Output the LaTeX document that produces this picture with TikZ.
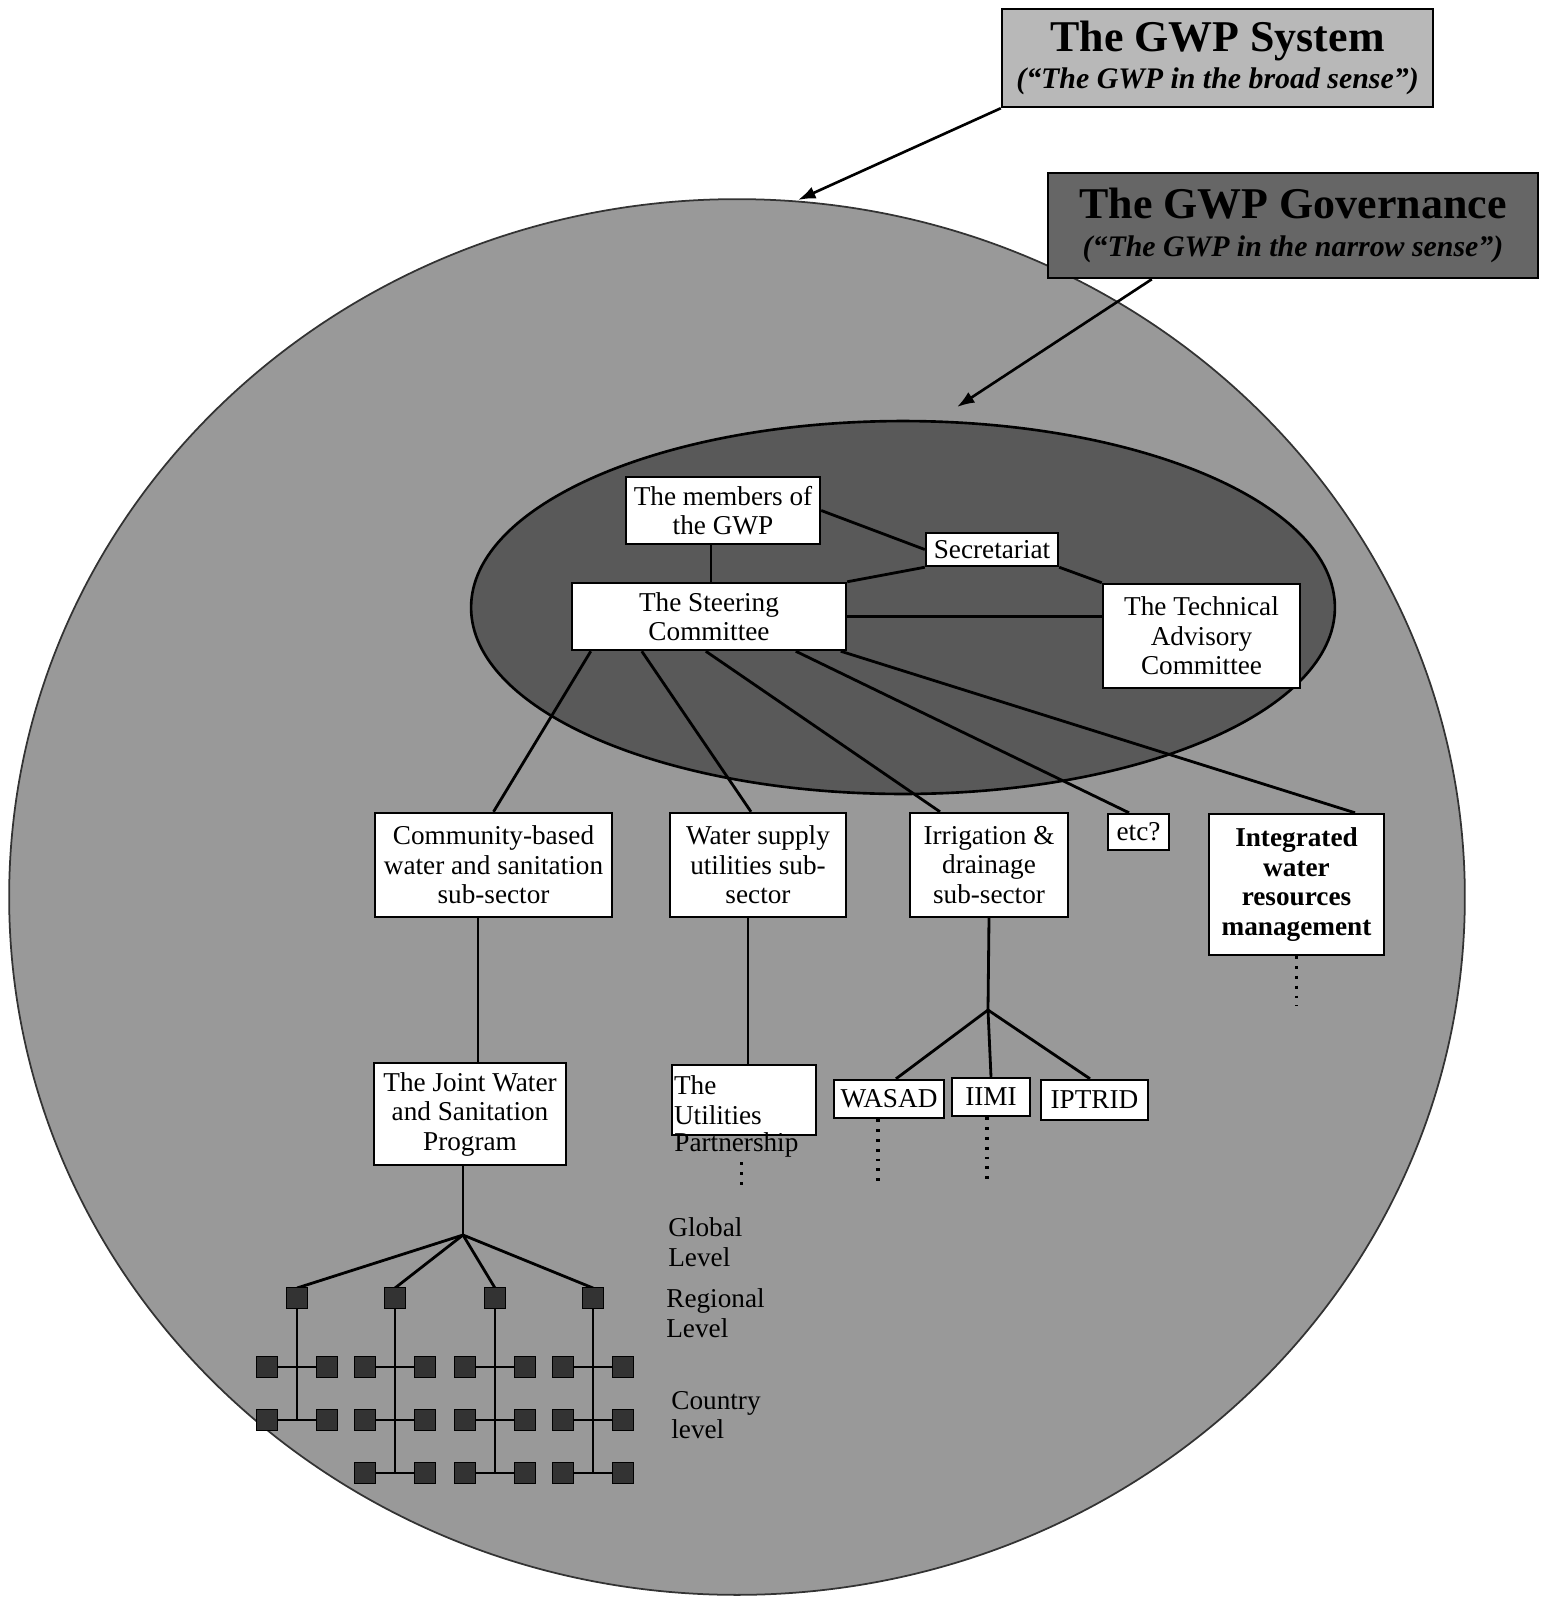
\documentclass[tikz,border=0pt]{standalone}
\usepackage{fontspec}
\setmainfont{Liberation Serif}
\usepackage{tikz}
\usetikzlibrary{arrows.meta,calc}
\newcommand\gwpfont{\fontsize{15.5}{16.8}\selectfont}
\newcommand\gwptitle{\fontsize{25}{28}\selectfont\bfseries\upshape}
\newcommand\gwpsub{\fontsize{17}{21.5}\selectfont\bfseries\itshape}
\tikzset{
  box/.style={draw, fill=white, line width=1.4pt, align=center, inner sep=1pt, font=\gwpfont},
  link/.style={line width=1.6pt},
  dotlink/.style={line width=2pt, dash pattern=on 1.6pt off 4pt},
  regsq/.style={draw, fill=black!80, line width=0.8pt, minimum size=0.42cm, inner sep=0pt},
  pointer/.style={line width=1.5pt, -{Latex[length=0.35cm,width=0.25cm]}},
  levellabel/.style={anchor=west, align=left, inner sep=0pt, font=\gwpfont}
}

\begin{document}
\begin{tikzpicture}[x=0.02cm, y=-0.02cm]
		%%%%% START %%%%%
		\useasboundingbox (0,0) rectangle (1541,1600);
		
		% the system and the governance
		\draw[fill=black!40, draw=black!80, line width=1pt] (737,897) ellipse [x radius=14.56cm, y radius=13.96cm];
		\draw[fill=black!65, line width=1.5pt] (903,607.5) ellipse [x radius=8.64cm, y radius=3.73cm];
		
		\node[draw, line width=1.4pt, fill=black!28, minimum width=8.62cm, minimum height=1.96cm, align=center, inner sep=0pt, font=\gwpsub] (sys) at (1217.5,58) {{\gwptitle The GWP System}\\(“The GWP in the broad sense”)};
		\node[draw, line width=1.4pt, fill=black!60, minimum width=9.8cm, minimum height=2.1cm, align=center, inner sep=0pt, font=\gwpsub] (gov) at (1293,225.5) {{\gwptitle The GWP Governance}\\(“The GWP in the narrow sense”)};
		\coordinate (systip) at (798,200);
		\coordinate (govtip) at (957,407);
		\draw[pointer] (sys.south west) -- (systip);
		\draw[pointer] ([xshift=2.1cm]gov.south west) -- (govtip);
		
		% inside the ellipse
		\node[box, minimum width=3.88cm, minimum height=1.34cm] (members) at (723,510.5) {The members of\\the GWP};
		\node[box, minimum width=2.64cm, minimum height=0.66cm] (secr) at (992,549.5) {Secretariat};
		\node[box, minimum width=5.48cm, minimum height=1.34cm] (steer) at (709,616.5) {The Steering\\Committee};
		\node[box, minimum width=3.94cm, minimum height=2.08cm] (tac) at (1201.5,636) {The Technical\\Advisory\\Committee};
		
		\draw[link] ([xshift=-0.24cm]members.south) -- ([xshift=-0.24cm]members.south |- steer.north);
		\draw[link] (members.east) -- (secr.west);
		\draw[link] (secr.south west) -- (steer.north east);
		\draw[link] (secr.south east) -- (tac.north west);
		\draw[link] (steer.east) -- (steer.east -| tac.west);
		
		% sub-sectors
		\node[box, minimum width=4.74cm, minimum height=2.08cm] (comm) at (493.5,865) {Community-based\\water and sanitation\\sub-sector};
		\node[box, minimum width=3.52cm, minimum height=2.08cm] (wss) at (758,865) {Water supply\\utilities sub-\\sector};
		\node[box, minimum width=3.16cm, minimum height=2.08cm] (irr) at (989,865) {Irrigation \&\\drainage\\sub-sector};
		\node[box, minimum width=1.22cm, minimum height=0.72cm] (etcbox) at (1138.5,832) {etc?};
		\node[box, minimum width=3.5cm, minimum height=2.82cm, font=\gwpfont\bfseries] (iwrm) at (1296.5,884.5) {Integrated\\water\\resources\\management};
		
		\draw[link] ([xshift=0.4cm]steer.south west) -- (comm.north);
		\draw[link] ([xshift=1.42cm]steer.south west) -- ([xshift=-0.14cm]wss.north);
		\draw[link] ([xshift=2.7cm]steer.south west) -- ([xshift=-0.98cm]irr.north);
		\draw[link] ([xshift=4.5cm]steer.south west) -- ([xshift=-0.19cm]etcbox.north);
		\draw[link] ([xshift=5.4cm]steer.south west) -- ([xshift=1.17cm]iwrm.north);
		
		% programmes
		\node[box, minimum width=3.84cm, minimum height=2.04cm] (jwsp) at (470,1114) {The Joint Water\\and Sanitation\\Program};
		\node[box, align=left, text width=2.8cm, minimum height=1.4cm] (utp) at (744,1100) {The\\Utilities};
		\node[font=\gwpfont, anchor=base west, inner sep=0pt] (utpb) at ([xshift=0.06cm, yshift=-0.3cm]utp.south west) {Partnership};
		\node[box, minimum width=2.2cm, minimum height=0.76cm] (wasad) at (889,1099) {WASAD};
		\node[box, minimum width=1.56cm, minimum height=0.76cm] (iimi) at (991,1097) {IIMI};
		\node[box, minimum width=2.14cm, minimum height=0.8cm] (iptrid) at (1094.5,1100) {IPTRID};
		
		\draw[link] ([xshift=-0.31cm]comm.south) -- ([xshift=-0.31cm]comm.south |- jwsp.north);
		\draw[link] ([xshift=-0.2cm]wss.south) -- ([xshift=-0.2cm]wss.south |- utp.north);
		\coordinate (ibr) at (988,1010);
		\draw[link] (irr.south) -- (ibr);
		\draw[link] (ibr) -- ([xshift=0.14cm]wasad.north);
		\draw[link] (ibr) -- (iimi.north);
		\draw[link] (ibr) -- ([xshift=-0.09cm]iptrid.north);
		
		\draw[dotlink] ([xshift=0.1cm, yshift=-0.1cm]utpb.south) -- ++(0,28);
		\draw[dotlink] ([xshift=-0.22cm]wasad.south) -- ++(0,62);
		\draw[dotlink] ([xshift=-0.08cm]iimi.south) -- ++(0,64);
		\draw[dotlink] (iwrm.south) -- ++(0,50);
		
		% global, regional and country level
		\coordinate (jbr) at (463,1235);
		\draw[link] (jbr |- jwsp.south) -- (jbr);
		\foreach \x/\ylast/\rows [count=\i] in {297/1420/{1367,1420}, 395/1473/{1367,1420,1473}, 495/1473/{1367,1420,1473}, 593/1473/{1367,1420,1473}} {
			\draw[link] (jbr) -- (\x,1288);
			\draw[link] (\x,1298) -- (\x,\ylast);
			\node[regsq] (r\i) at (\x,1298) {};
			\foreach \y [count=\j] in \rows {
				\draw[link] (\x-30,\y) -- (\x+30,\y);
				\node[regsq] (c\i-\j-l) at (\x-30,\y) {};
				\node[regsq] (c\i-\j-r) at (\x+30,\y) {};
			}
		}
		
		\node[levellabel] (lvglobal) at (668,1242) {Global\\Level};
		\node[levellabel] (lvregion) at (666,1313) {Regional\\Level};
		\node[levellabel] (lvcountry) at (671,1415) {Country\\level};
		
		%%%%% END %%%%%
\end{tikzpicture}
\end{document}
